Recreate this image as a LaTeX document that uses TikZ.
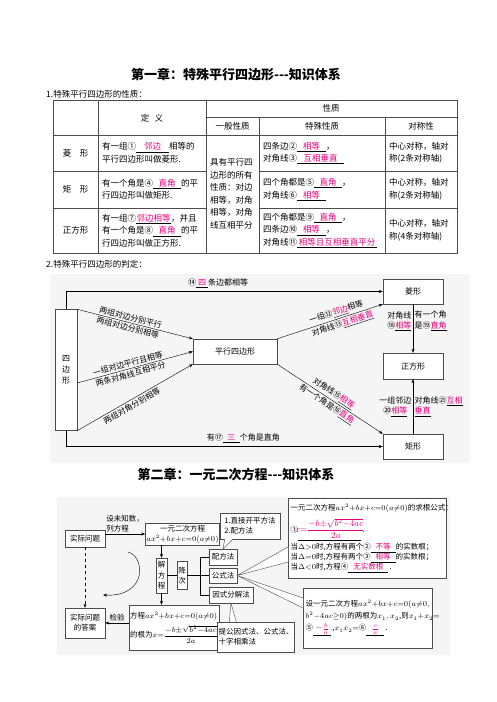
\RequirePackage{fix-cm}
\documentclass[tikz,border=0pt]{standalone}
\usepackage{fontspec}
\setmainfont{Noto Sans CJK SC}
\usepackage{tikz}
\usetikzlibrary{arrows.meta,positioning,calc}
\definecolor{hl}{RGB}{228,0,127}
\newcommand{\fillin}[2][16pt]{\underline{\makebox[#1]{\color{hl}#2}}}
\newcommand{\qeq}{$ax^2{+}bx{+}c{=}0(a{\neq}0)$}
\newcommand{\rootfrac}{\displaystyle\frac{{-}b{\pm}\sqrt{b^2{-}4ac}}{2a}}
\newcommand{\bigmath}{\fontsize{9}{10}\selectfont}

\begin{document}
\begin{tikzpicture}[x=1pt,y=-1pt,>={Stealth[length=4pt,width=3pt]},
  title/.style={font=\fontsize{13}{15}\selectfont\bfseries},
  txt/.style={inner sep=0pt,font=\fontsize{8.5}{12.5}\selectfont},
  cell/.style={txt,anchor=west,align=left},
  grid/.style={black!70,line width=0.5pt},
  jbox/.style={draw=black!70,fill=white,inner sep=1pt,align=center,font=\fontsize{8}{11}\selectfont},
  lbl/.style={inner sep=1.5pt,font=\fontsize{8}{10.5}\selectfont},
  qbox/.style={draw=black!70,fill=white,inner sep=1pt,align=center,font=\fontsize{7.5}{10}\selectfont},
  qlbl/.style={inner sep=1.5pt,font=\fontsize{7.5}{10}\selectfont}]
\useasboundingbox (0,0) rectangle (496,702);

\node[title] (title1) at (236,75) {第一章：特殊平行四边形-{}-{}-知识体系};
\node[txt,anchor=west] (sec1) at (46,94) {1.特殊平行四边形的性质：};

\draw[grid,line width=0.8pt] (53,100) rectangle (457,253);
\foreach \x in {98,206} \draw[grid] (\x,100) -- (\x,253);
\foreach \x in {259,385} \draw[grid] (\x,117) -- (\x,253);
\draw[grid] (206,117) -- (457,117);
\draw[grid] (53,135) -- (457,135);
\foreach \y in {171,208} {\draw[grid] (53,\y) -- (206,\y); \draw[grid] (259,\y) -- (457,\y);}

\node[txt] (hdef) at (152,118) {定\hspace{0.6em}义};
\node[txt] (hprop) at (331,108.5) {性质};
\node[txt] (hgen) at (232.5,126) {一般性质};
\node[txt] (hspec) at (322,126) {特殊性质};
\node[txt] (hsym) at (421,126) {对称性};

\node[txt] (rhname) at (75.5,153) {菱\hspace{1em}形};
\node[cell] (rhdef) at (102,153) {有一组①\fillin[33pt]{邻边}相等的\\平行四边形叫做菱形.};
\node[cell] (rhspec) at (263,153) {四条边②\fillin[29pt]{相等}，\\对角线③\fillin[47pt]{互相垂直}};
\node[cell] (rhsym) at (389,153) {中心对称，轴对\\称(2条对称轴)};

\node[txt] (rcname) at (75.5,189.5) {矩\hspace{1em}形};
\node[cell] (rcdef) at (102,189.5) {有一个角是④\fillin[28pt]{直角}的平\\行四边形叫做矩形.};
\node[cell] (rcspec) at (263,189.5) {四个角都是⑤\fillin[28pt]{直角}，\\对角线⑥\fillin[29pt]{相等}};
\node[cell] (rcsym) at (389,189.5) {中心对称，轴对\\称(2条对称轴)};

\node[txt] (sqname) at (75.5,230.5) {正方形};
\node[cell] (sqdef) at (102,230.5) {有一组⑦\fillin[35pt]{邻边相等}，并且\\有一个角是⑧\fillin[28pt]{直角}的平\\行四边形叫做正方形.};
\node[cell] (sqspec) at (263,230.5) {四个角都是⑨\fillin[28pt]{直角}，\\四条边⑩\fillin[29pt]{相等}，\\对角线⑪\fillin[80pt]{相等且互相垂直平分}};
\node[cell] (sqsym) at (389,230.5) {中心对称，轴对\\称(4条对称轴)};

\node[cell] (general) at (210,194) {具有平行四\\边形的所有\\性质：对边\\相等，对角\\相等，对角\\线互相平分};

\node[txt,anchor=west] (sec2) at (46,264) {2.特殊平行四边形的判定：};
\fill[black!4] (50,274) rectangle (470,463);

\node[jbox,minimum width=22,minimum height=121] (quad) at (66,370) {四\\边\\形};
\node[jbox,minimum width=84,minimum height=25] (para) at (235,351.5) {平行四边形};
\node[jbox,minimum width=60,minimum height=25] (rhom) at (413,291.5) {菱形};
\node[jbox,minimum width=60,minimum height=26] (sq) at (413,366) {正方形};
\node[jbox,minimum width=60,minimum height=25] (rect) at (413,446.5) {矩形};

\draw[->] (quad.north) |- (rhom.west) node[lbl,pos=0.74,above,yshift=2pt] {⑭\fillin[12pt]{四}条边都相等};
\draw[->] (quad.south) |- (rect.west) node[lbl,pos=0.78,above,yshift=2pt] {有⑰\fillin[17pt]{三}个角是直角};
\draw[->] (quad.north east) -- (para.north west)
  node[lbl,pos=0.45,sloped,above] {两组对边分别平行}
  node[lbl,pos=0.45,sloped,below] {两组对边分别相等};
\draw[->] ($(quad.east)+(0,13)$) -- (para.west)
  node[lbl,pos=0.45,sloped,above] {一组对边平行且相等}
  node[lbl,pos=0.45,sloped,below] {两条对角线互相平分};
\draw[->] (quad.south east) -- (para.south west)
  node[lbl,pos=0.45,sloped,below] {两组对角分别相等};
\draw[->] (para.north east) -- (rhom.south west)
  node[lbl,pos=0.58,sloped,above] {一组⑫\fillin{邻边}相等}
  node[lbl,pos=0.6,sloped,below] {对角线⑬\fillin[32pt]{互相垂直}};
\draw[->] (para.south east) -- (rect.north west)
  node[lbl,pos=0.5,sloped,above] {对角线⑮\fillin{相等}}
  node[lbl,pos=0.5,sloped,below] {有一个角是⑯\fillin{直角}};
\draw[->] (rhom) -- (sq)
  node[lbl,pos=0.35,left,align=center] {对角线\\⑱\fillin{相等}}
  node[lbl,pos=0.35,right,align=left] {有一个角\\是⑲\fillin{直角}};
\draw[->] (rect) -- (sq)
  node[lbl,midway,left,align=center] {一组邻边\\⑳\fillin{相等}}
  node[lbl,midway,right,align=left] {对角线㉑\fillin{互相}\\\fillin{垂直}};

\node[title] (title2) at (236,475) {第二章：一元二次方程-{}-{}-知识体系};
\fill[black!4] (57,497) rectangle (450,655);

\node[qbox,minimum width=40,minimum height=17] (prob) at (85,538.5) {实际问题};
\node[qbox,minimum width=65,minimum height=22] (eqn) at (182.5,534) {一元二次方程\\\qeq};
\node[qbox,minimum width=60,minimum height=26,align=left] (ways) at (250,526) {1.直接开平方法\\2.配方法};
\node[qbox,minimum width=28,minimum height=16] (complete) at (223,557) {配方法};
\node[qbox,minimum width=28,minimum height=15] (formula) at (223,575.5) {公式法};
\node[qbox,minimum width=44,minimum height=16] (factor) at (231,595) {因式分解法};
\node[qbox,minimum width=11,minimum height=35,font=\fontsize{7.5}{10.5}\selectfont] (solve) at (161.5,575.5) {解\\方\\程};
\node[qbox,minimum width=10,minimum height=28,font=\fontsize{7.5}{10.5}\selectfont] (reduce) at (182,575.5) {降\\次};
\node[qbox,minimum width=82,minimum height=45,align=left] (roots) at (174,627.5) {方程\qeq\\[4pt]的根为$x{=}\rootfrac$};
\node[qbox,minimum width=40,minimum height=30] (answer) at (85,623) {实际问题\\的答案};
\node[qbox,minimum width=76,minimum height=30,align=left] (ways2) at (256,637) {提公因式法、公式法、\\十字相乘法};
\node[qbox,anchor=north west,text width=153,inner sep=2.5pt,minimum height=80,align=left] (rootbox) at (288,498)
  {一元二次方程\qeq 的求根公式：\\[5pt]
   ①\fillin[63pt]{\bigmath$x{=}\rootfrac$}\,.\\[2pt]
   当$\Delta{>}0$时,方程有两个②\fillin[25pt]{不等}的实数根；\\
   当$\Delta{=}0$时,方程有两个③\fillin[25pt]{相等}的实数根；\\
   当$\Delta{<}0$时,方程④\fillin[40pt]{无实数根}\,.};
\node[qbox,anchor=north west,text width=124,inner sep=2.5pt,minimum height=60,align=left] (vieta) at (303,588)
  {设一元二次方程$ax^2{+}bx{+}c{=}0(a{\neq}0,$\\[2pt]
   $b^2{-}4ac{\geq}0)$的两根为$x_1,x_2$,则$x_1{+}x_2{=}$\\[2pt]
   ⑤\fillin[18pt]{\bigmath$-\frac{b}{a}$}\,,$x_1x_2{=}$⑥\fillin[18pt]{\bigmath$\frac{c}{a}$}\,.};

\draw[->] (prob.east |- eqn.west) -- (eqn.west)
  node[qlbl,midway,above,align=left] {设未知数，\\列方程};
\draw[->] (solve.north |- eqn.south) -- (solve.north);
\draw[->] (solve.south) -- (solve.south |- roots.north);
\draw (solve) -- (reduce);
\draw (reduce) -- (formula);
\draw (complete.west) -- ++(-9,0) |- (factor.west);
\draw[->] (roots.west |- answer.east) -- (answer.east)
  node[qlbl,midway,above] {检验};
\draw[->,dashed] (prob.south) -- (answer.north);
\coordinate (loopa) at (128,552);
\coordinate (loopb) at (103,595);
\draw[->] (loopa) .. controls (145,556) and (148,597) .. (loopb);

\fill[white] ($(ways.south west)+(5,0)$) -- (complete.north) -- ($(ways.south west)+(13,0)$) -- cycle;
\draw[black!70] ($(ways.south west)+(5,0)$) -- (complete.north) -- ($(ways.south west)+(13,0)$);
\fill[white] ($(ways2.north west)+(12,0)$) -- (factor.south) -- ($(ways2.north west)+(19,0)$) -- cycle;
\draw[black!70] ($(ways2.north west)+(12,0)$) -- (factor.south) -- ($(ways2.north west)+(19,0)$);
\fill[white] ($(rootbox.north west)+(0,49)$) -- (formula.east) -- ($(rootbox.north west)+(0,64)$) -- cycle;
\draw[black!70] ($(rootbox.north west)+(0,49)$) -- (formula.east) -- ($(rootbox.north west)+(0,64)$);
\fill[white] ($(vieta.north west)+(0,10)$) -- (formula.east) -- ($(vieta.north west)+(0,20)$) -- cycle;
\draw[black!70] ($(vieta.north west)+(0,10)$) -- (formula.east) -- ($(vieta.north west)+(0,20)$);
\end{tikzpicture}
\end{document}
